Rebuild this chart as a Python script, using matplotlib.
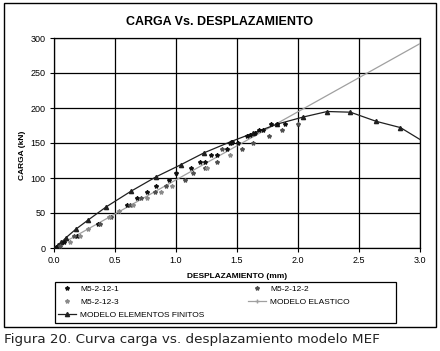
import matplotlib
matplotlib.use("Agg")
import matplotlib.pyplot as plt
from matplotlib.lines import Line2D
from matplotlib.patches import Rectangle

plt.rcParams['font.family'] = ['Liberation Sans', 'DejaVu Sans']

# ---- data ----
mef_x = [0.0, 0.03, 0.06, 0.10, 0.18, 0.28, 0.43, 0.63, 0.84, 1.04, 1.23, 1.45,
         1.63, 1.83, 2.04, 2.24, 2.43, 2.64, 2.84, 3.0]
mef_y = [0, 4, 8, 15, 27, 40, 59, 81, 102, 119, 136, 152,
         164, 177, 187, 195, 194, 181, 172, 155]

elas_x = [0.0, 3.0]
elas_y = [0, 292]

s1_x = [0.02, 0.08, 0.19, 0.36, 0.60, 0.68, 0.76, 0.84, 0.94, 1.0, 1.12, 1.20, 1.24, 1.29,
        1.34, 1.42, 1.44, 1.46, 1.51, 1.58, 1.61, 1.65, 1.68, 1.71, 1.78, 1.83, 1.89]
s1_y = [2, 9, 17, 35, 62, 71, 80, 89, 97, 107, 114, 123, 123, 133,
        133, 142, 150, 152, 150, 160, 161, 164, 169, 169, 177, 177, 177]

s2_x = [0.05, 0.16, 0.38, 0.47, 0.62, 0.71, 0.83, 0.92, 1.07, 1.14, 1.24, 1.34, 1.38,
        1.54, 1.63, 1.76, 1.87, 2.0]
s2_y = [3, 17, 35, 44, 62, 71, 80, 89, 97, 107, 114, 123, 142,
        142, 150, 160, 169, 177]

s3_x = [0.13, 0.21, 0.28, 0.45, 0.53, 0.65, 0.76, 0.88, 0.97, 1.25, 1.44]
s3_y = [8, 17, 27, 44, 53, 62, 71, 80, 89, 114, 133]

xticks = [0.0, 0.5, 1.0, 1.5, 2.0, 2.5, 3.0]
yticks = [0, 50, 100, 150, 200, 250, 300]

fig = plt.figure(figsize=(4.40, 3.51), dpi=100)
ax = fig.add_axes([54/440, 103/351, 366/440, 210/351])

ax.plot(elas_x, elas_y, color='#a0a0a0', lw=0.9, zorder=3)
ax.plot(mef_x, mef_y, color='#202020', lw=0.9, marker='^', ms=3,
        markevery=list(range(len(mef_x) - 1)), zorder=4)
ax.plot(s1_x, s1_y, ls='none', marker='*', ms=3, color='#101010', zorder=5)
ax.plot(s2_x, s2_y, ls='none', marker='*', ms=3, color='#505050', zorder=5)
ax.plot(s3_x, s3_y, ls='none', marker='*', ms=3, color='#8a8a8a', zorder=5)

ax.set_xlim(0, 3.0)
ax.set_ylim(0, 300)
ax.set_xticks(xticks)
ax.set_yticks(yticks)
ax.set_xticklabels([f"{v:.1f}" for v in xticks])
ax.set_yticklabels([str(v) for v in yticks])
ax.grid(True, color='black', lw=0.9)
ax.set_axisbelow(True)
for sp in ax.spines.values():
    sp.set_color('black')
    sp.set_linewidth(0.9)
ax.tick_params(labelsize=6.5, length=3, width=0.8, pad=3, direction='out')

fig.text(0.5, 0.937, 'CARGA Vs. DESPLAZAMIENTO', ha='center', va='center',
         fontsize=9, fontweight='bold')
fig.text(22/440, (351-155)/351, 'CARGA (kN)', rotation=90, ha='center', va='center',
         fontsize=6, fontweight='bold')
fig.text(237/440, (351-276)/351, 'DESPLAZAMIENTO (mm)', ha='center', va='center',
         fontsize=6, fontweight='bold')

handles = [
    Line2D([], [], ls='none', marker='*', ms=3, color='#101010'),
    Line2D([], [], ls='none', marker='*', ms=3, color='#8a8a8a'),
    Line2D([], [], color='#202020', lw=0.9, marker='^', ms=3),
    Line2D([], [], ls='none', marker='*', ms=3, color='#505050'),
    Line2D([], [], color='#a0a0a0', lw=0.9, marker='+', ms=3),
]
labels = ['M5-2-12-1', 'M5-2-12-3', 'MODELO ELEMENTOS FINITOS', 'M5-2-12-2', 'MODELO ELASTICO']
leg = fig.legend(handles, labels, ncol=2, loc='upper left',
                 bbox_to_anchor=(55/440, (351-283)/351), fontsize=6,
                 frameon=False, handlelength=2.2, labelspacing=0.6,
                 borderpad=0.3, handletextpad=0.5, borderaxespad=0,
                 columnspacing=5.2)

fig.add_artist(Rectangle((55/440, (351-323)/351), 341/440, 41/351,
                         transform=fig.transFigure, fill=False, ec='black', lw=0.9))
fig.add_artist(Rectangle((4/440, (351-327)/351), 432/440, 324/351,
                         transform=fig.transFigure, fill=False, ec='black', lw=1.0))

fig.text(4/440, (351-340)/351, 'Figura 20. Curva carga vs. desplazamiento modelo MEF',
         ha='left', va='center', fontsize=9.7, family='DejaVu Sans', color='#222222')

fig.savefig('out.png', dpi=100)
